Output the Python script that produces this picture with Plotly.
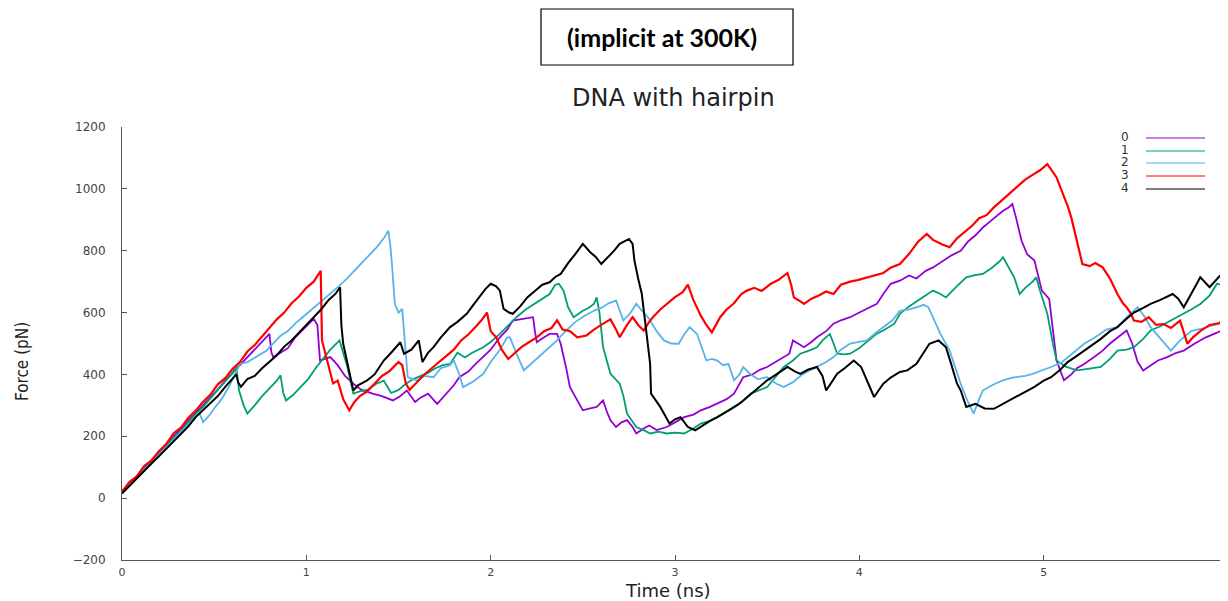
import plotly.graph_objects as go

# ---------------- data ----------------
t0 = [0,0.04,0.08,0.12,0.16,0.2,0.24,0.28,0.32,0.36,0.4,0.44,0.48,0.52,0.56,0.6,0.64,0.68,0.72,0.76,0.8,0.81,0.82,0.86,0.9,0.94,0.98,1.02,1.04,1.06,1.074,1.1,1.13,1.17,1.21,1.255,1.3,1.36,1.41,1.47,1.51,1.545,1.59,1.62,1.66,1.71,1.76,1.8,1.83,1.88,1.92,1.96,2.0,2.05,2.09,2.12,2.17,2.23,2.24,2.25,2.29,2.32,2.36,2.38,2.41,2.43,2.47,2.5,2.54,2.575,2.61,2.63,2.65,2.68,2.71,2.74,2.77,2.79,2.83,2.86,2.9,2.955,3.0,3.05,3.1,3.14,3.19,3.23,3.28,3.32,3.35,3.37,3.42,3.46,3.5,3.56,3.6,3.62,3.64,3.67,3.7,3.74,3.77,3.82,3.86,3.9,3.95,4.0,4.05,4.095,4.13,4.17,4.22,4.27,4.31,4.36,4.4,4.45,4.5,4.55,4.59,4.63,4.67,4.71,4.75,4.78,4.81,4.83,4.85,4.88,4.91,4.95,4.97,4.99,5.03,5.05,5.07,5.11,5.15,5.18,5.22,5.27,5.32,5.36,5.4,5.45,5.48,5.51,5.54,5.58,5.62,5.67,5.72,5.76,5.82,5.88,5.94,6.0]
f0 = [20,45,72,95,120,148,172,200,225,250,278,300,328,352,380,405,428,455,478,505,531,472,456,470,485,520,545,570,580,560,445,450,456,430,395,370,350,338,330,316,330,348,311,325,338,305,338,365,391,410,435,456,480,520,545,574,580,585,540,504,520,531,531,499,420,359,316,284,290,295,316,280,252,230,245,252,230,209,225,235,220,230,245,262,270,284,295,305,320,338,370,391,400,415,424,445,460,467,510,500,488,505,520,540,564,575,585,600,615,628,660,693,703,720,710,735,746,765,785,800,830,850,875,895,915,929,940,951,907,832,789,768,720,671,644,540,445,381,400,420,434,455,477,500,520,542,500,440,413,430,445,456,470,477,500,520,535,553]

t1 = [0,0.04,0.08,0.12,0.16,0.2,0.24,0.28,0.32,0.36,0.4,0.44,0.48,0.52,0.56,0.6,0.62,0.635,0.66,0.68,0.72,0.76,0.8,0.84,0.86,0.875,0.89,0.93,0.97,1.01,1.05,1.09,1.13,1.18,1.2,1.22,1.255,1.29,1.33,1.38,1.42,1.46,1.5,1.54,1.58,1.62,1.66,1.7,1.74,1.78,1.82,1.86,1.9,1.96,2.0,2.05,2.1,2.14,2.19,2.24,2.29,2.32,2.35,2.37,2.395,2.42,2.45,2.5,2.53,2.56,2.575,2.59,2.61,2.65,2.7,2.72,2.74,2.79,2.83,2.865,2.91,2.955,3.0,3.05,3.1,3.14,3.19,3.23,3.28,3.32,3.37,3.41,3.46,3.5,3.55,3.59,3.64,3.68,3.73,3.77,3.8,3.84,3.86,3.88,3.92,3.95,4.0,4.04,4.09,4.13,4.19,4.22,4.27,4.32,4.36,4.4,4.44,4.47,4.52,4.58,4.62,4.67,4.72,4.76,4.78,4.81,4.84,4.87,4.9,4.94,4.96,4.98,5.02,5.05,5.07,5.12,5.18,5.24,5.31,5.36,5.4,5.45,5.49,5.54,5.58,5.63,5.69,5.74,5.8,5.85,5.9,5.94,5.97,6.0]
f1 = [20,42,68,92,118,143,168,195,218,245,272,295,322,350,375,405,424,348,300,273,300,330,355,380,397,340,316,335,360,385,420,450,480,510,470,430,338,345,350,370,380,340,350,370,385,395,405,420,430,434,470,455,470,488,505,531,560,585,610,630,649,660,690,693,671,617,585,606,615,628,649,600,488,402,370,330,273,230,220,209,215,209,212,209,225,241,250,262,280,295,315,338,350,359,395,424,445,467,478,488,510,531,500,467,465,467,485,505,530,542,564,596,620,640,655,671,660,649,680,714,720,725,745,765,779,745,714,660,680,700,714,671,596,500,445,425,413,418,424,450,477,480,488,515,542,555,574,590,610,628,655,693,690,703]

t2 = [0,0.04,0.08,0.12,0.16,0.2,0.24,0.28,0.32,0.36,0.4,0.42,0.44,0.47,0.5,0.54,0.58,0.62,0.64,0.68,0.72,0.76,0.785,0.82,0.86,0.9,0.94,0.98,1.02,1.06,1.1,1.14,1.18,1.22,1.26,1.3,1.34,1.38,1.42,1.445,1.455,1.463,1.48,1.5,1.52,1.53,1.545,1.55,1.6,1.64,1.69,1.73,1.78,1.8,1.83,1.85,1.9,1.96,2.0,2.05,2.09,2.105,2.14,2.18,2.2,2.25,2.32,2.36,2.41,2.46,2.51,2.56,2.6,2.64,2.68,2.72,2.76,2.79,2.82,2.86,2.9,2.94,2.98,3.02,3.05,3.08,3.12,3.17,3.2,3.23,3.26,3.29,3.32,3.35,3.37,3.41,3.45,3.5,3.55,3.59,3.64,3.68,3.72,3.77,3.82,3.86,3.9,3.95,4.0,4.04,4.09,4.13,4.18,4.22,4.27,4.31,4.35,4.375,4.41,4.44,4.49,4.52,4.55,4.59,4.62,4.65,4.67,4.72,4.78,4.83,4.9,4.94,5.0,5.04,5.1,5.16,5.22,5.28,5.34,5.4,5.45,5.51,5.55,5.58,5.63,5.69,5.74,5.8,5.87,5.94,6.0]
f2 = [25,45,70,92,115,140,165,188,212,240,262,275,246,265,290,320,360,410,434,440,455,470,477,500,525,540,565,585,605,625,645,665,687,710,735,760,785,810,840,865,820,768,628,600,612,531,430,391,380,395,391,420,430,445,400,359,375,402,440,480,520,520,467,413,424,450,488,510,542,570,590,606,615,630,639,574,600,628,606,580,540,510,500,499,530,553,530,445,450,445,430,434,381,400,424,400,385,391,370,359,375,395,410,424,440,456,480,500,505,510,535,553,575,606,610,617,625,617,570,531,477,420,370,310,273,320,348,365,381,390,395,402,415,424,440,470,499,520,545,553,585,617,585,553,520,477,510,540,550,563,585]

t3 = [0,0.04,0.08,0.12,0.16,0.2,0.24,0.28,0.32,0.36,0.4,0.44,0.48,0.52,0.56,0.6,0.64,0.68,0.72,0.76,0.8,0.84,0.88,0.92,0.96,1.0,1.04,1.078,1.085,1.11,1.145,1.17,1.2,1.233,1.26,1.29,1.33,1.37,1.41,1.45,1.5,1.52,1.54,1.56,1.6,1.64,1.68,1.72,1.76,1.8,1.84,1.88,1.92,1.95,1.98,2.0,2.03,2.06,2.095,2.13,2.17,2.21,2.25,2.29,2.33,2.36,2.39,2.43,2.47,2.52,2.56,2.6,2.65,2.68,2.7,2.74,2.77,2.8,2.83,2.86,2.88,2.92,2.96,3.0,3.04,3.07,3.1,3.14,3.17,3.2,3.245,3.28,3.32,3.36,3.39,3.43,3.47,3.52,3.56,3.59,3.61,3.63,3.645,3.67,3.7,3.74,3.78,3.82,3.86,3.9,3.95,3.99,4.03,4.08,4.13,4.17,4.22,4.27,4.32,4.366,4.4,4.45,4.49,4.53,4.57,4.61,4.65,4.69,4.73,4.78,4.82,4.86,4.9,4.94,4.98,5.02,5.05,5.07,5.1,5.13,5.15,5.18,5.21,5.25,5.28,5.32,5.36,5.4,5.43,5.45,5.47,5.49,5.53,5.57,5.61,5.65,5.69,5.74,5.76,5.78,5.81,5.85,5.9,5.95,6.0]
f3 = [20,52,70,104,122,152,175,210,228,260,283,312,335,368,388,418,440,474,495,522,548,578,600,630,652,680,700,735,510,450,371,380,320,284,310,330,345,370,395,410,440,430,370,350,375,400,420,440,460,480,510,530,555,575,600,540,520,480,450,470,490,505,520,540,550,575,545,540,520,526,545,560,578,545,520,560,585,560,542,570,585,610,630,650,665,690,640,590,560,536,585,610,630,660,671,680,670,693,705,718,728,690,649,640,628,645,655,668,660,690,700,705,712,720,728,745,757,790,830,854,835,820,811,840,860,880,905,915,940,967,990,1010,1030,1045,1060,1080,1055,1037,990,945,907,830,757,750,760,746,710,660,630,617,600,574,570,585,560,563,550,574,540,499,520,540,560,565,585]

t4 = [0,0.04,0.08,0.12,0.16,0.2,0.24,0.28,0.32,0.36,0.4,0.44,0.48,0.52,0.56,0.6,0.62,0.63,0.645,0.68,0.72,0.76,0.8,0.84,0.88,0.92,0.96,1.0,1.04,1.08,1.12,1.16,1.183,1.19,1.2,1.23,1.255,1.28,1.33,1.37,1.42,1.46,1.51,1.53,1.57,1.61,1.63,1.66,1.69,1.73,1.78,1.82,1.87,1.9,1.94,1.97,2.0,2.03,2.05,2.07,2.1,2.12,2.16,2.2,2.24,2.28,2.32,2.35,2.38,2.42,2.46,2.5,2.54,2.57,2.6,2.63,2.67,2.7,2.75,2.77,2.78,2.8,2.82,2.84,2.865,2.87,2.92,2.97,3.0,3.03,3.07,3.11,3.15,3.19,3.23,3.27,3.31,3.35,3.4,3.45,3.5,3.55,3.61,3.65,3.68,3.72,3.77,3.8,3.82,3.85,3.88,3.92,3.97,4.01,4.05,4.08,4.13,4.17,4.22,4.26,4.31,4.35,4.38,4.43,4.47,4.5,4.53,4.55,4.58,4.63,4.68,4.73,4.78,4.85,4.9,4.95,5.0,5.04,5.09,5.13,5.18,5.22,5.27,5.31,5.36,5.4,5.45,5.49,5.54,5.58,5.63,5.7,5.73,5.76,5.8,5.85,5.9,5.95,6.0]
f4 = [15,40,62,88,112,135,160,185,210,232,262,285,310,330,360,385,400,375,360,385,395,420,440,462,490,510,535,560,585,610,640,662,682,560,499,420,348,365,381,400,445,470,504,467,480,510,440,470,488,520,553,570,596,620,650,675,693,685,671,612,600,596,620,650,670,690,698,715,725,760,790,822,795,780,757,775,800,822,838,822,768,710,660,560,434,338,295,241,255,262,230,219,235,250,262,275,290,305,330,355,381,400,424,410,402,415,424,395,348,375,402,420,445,424,370,327,370,390,408,413,434,470,499,510,488,430,370,348,295,305,290,289,305,327,345,360,380,391,415,440,460,477,500,515,540,553,580,600,615,628,640,660,645,617,660,714,682,715,741]

series_names = ["0", "1", "2", "3", "4"]
series_t = [t0, t1, t2, t3, t4]
series_f = [f0, f1, f2, f3, f4]
colors = ["#9400D3", "#009E73", "#56B4E9", "#FF0000", "#000000"]
widths = [1.8, 1.8, 1.8, 2.2, 2.0]

x_ticks = [0, 1, 2, 3, 4, 5, 6]
y_ticks = [-200, 0, 200, 400, 600, 800, 1000, 1200]

# ---------------- figure ----------------
OFF = 8                      # page body margin of the html page
W, H = 1228 - OFF, 601 - OFF
L, R, T, B = 122 - OFF, 0, 127 - OFF, 41
pw, ph = W - L - R, H - T - B

def px(x):      # x in reference-image pixels -> paper
    return (x - OFF - L) / pw

def py(y):      # y in reference-image pixels -> paper
    return (H - B - (y - OFF)) / ph

fig = go.Figure()
for name, tt, ff, c, w in zip(series_names, series_t, series_f, colors, widths):
    fig.add_trace(go.Scatter(x=tt, y=ff, mode="lines", name=name,
                             line=dict(color=c, width=w), showlegend=False))

axis_common = dict(showgrid=False, zeroline=False, showline=True,
                   linecolor="#555", linewidth=1, ticks="inside", ticklen=5,
                   tickcolor="#555")
fig.update_xaxes(range=[0, 6], tickvals=x_ticks, ticklabelstandoff=2,
                 tickfont=dict(family="DejaVu Sans", size=11, color="#444"), **axis_common)
fig.update_yaxes(range=[-200, 1200], tickvals=y_ticks, ticklabelstandoff=13,
                 tickfont=dict(family="DejaVu Sans", size=12, color="#444"), **axis_common)

def ann(text, x, y, size, family, color="#222", **kw):
    d = dict(text=text, x=px(x), y=py(y), xref="paper", yref="paper",
             xanchor="center", yanchor="middle", showarrow=False,
             font=dict(family=family, size=size, color=color))
    d.update(kw)
    return d

annotations = [
    ann("DNA with hairpin", 673, 98, 24, "DejaVu Sans"),
    ann("<b>(implicit at 300K)</b>", 662, 37, 25, "Lato", color="#000"),
    ann("Time (ns)", 668, 590, 18, "DejaVu Sans"),
    ann("Force (pN)", 22, 362, 17,
        "Liberation Sans Narrow, DejaVu Sans Condensed, Arial Narrow, sans-serif",
        textangle=-90),
]
shapes = [
    dict(type="rect", xref="paper", yref="paper", x0=px(541), x1=px(793),
         y0=py(9), y1=py(65), line=dict(color="#000", width=1.2)),
]
legend_y = [137, 150, 162, 175, 188]
for name, c, yy in zip(series_names, colors, legend_y):
    annotations.append(ann(name, 1125, yy, 12, "DejaVu Sans", color="#333"))
    shapes.append(dict(type="line", xref="paper", yref="paper", x0=px(1146), x1=px(1205),
                       y0=py(yy + 1), y1=py(yy + 1), line=dict(color=c, width=1)))

fig.update_layout(width=W, height=H, margin=dict(l=L, r=R, t=T, b=B),
                  plot_bgcolor="white", paper_bgcolor="white",
                  annotations=annotations, shapes=shapes, showlegend=False)

fig.write_html("out.html")
